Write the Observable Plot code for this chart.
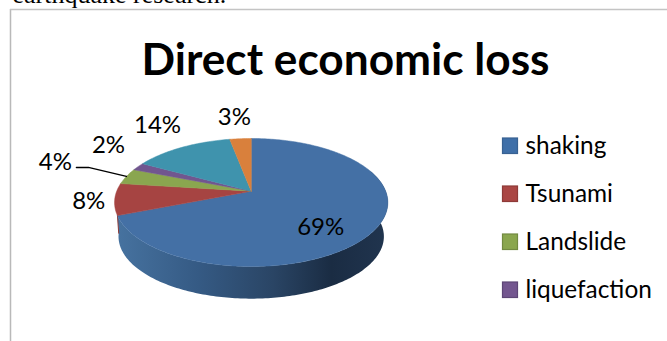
<!DOCTYPE html>
<html>
<head>
<meta charset="utf-8">
<script src="https://cdn.jsdelivr.net/npm/d3@7"></script>
<script src="https://cdn.jsdelivr.net/npm/@observablehq/plot@0.6"></script>
<style>
  html, body { margin: 0; padding: 0; background: #fff; overflow: hidden; }
  svg { display: block; }
</style>
</head>
<body>
<script>
// Share of direct economic loss by earthquake hazard
const categories = ["shaking", "Tsunami", "Landslide", "liquefaction", "Fire", "Other"];
const shares = [69, 8, 4, 2, 14, 3];
const sliceColors = ["#4470a5", "#a64442", "#8aa64f", "#71568f", "#3f93ad", "#d9803c"];
const legendColors = ["#3f6fa8", "#aa4644", "#8aa64e", "#73568f"];
const legendBorders = ["#386192", "#8e3a38", "#728a41", "#5d4676"];
const legendEntries = categories.slice(0, 4);

// Label offsets from the middle of each slice's rim
const labelNudgeX = [-54, -26, -71, -29.5, -24.5, -6];
const labelNudgeY = [-3, 2.5, -14, -21, -22, -21];

// Tilted pie: the circle is projected with perspective, so the centre sits above the ellipse centre
const pie = {cx: 250.7, cy: 190.7, sx: 134.5, sy: 62, persp: -0.1766};
const depth = {shrink: 0.971, from: 202, to: 236};

function project(deg, r = 1) {
  const a = deg * Math.PI / 180;
  const X = r * Math.sin(a), Y = -r * Math.cos(a);
  const w = 1 + pie.persp * Y;
  return {x: pie.cx + pie.sx * X / w, y: pie.cy + pie.sy * Y / w};
}
const lower = (p) => ({
  x: pie.cx + (p.x - pie.cx) * depth.shrink,
  y: depth.to + (p.y - depth.from) * depth.shrink
});
function arc(from, to) {
  const n = Math.max(2, Math.ceil(Math.abs(to - from)));
  return d3.range(n + 1).map((i) => project(from + (to - from) * i / n));
}

// Slice angles from the shares
const total = d3.sum(shares);
let running = 0;
const slices = categories.map((category, i) => {
  const start = running / total * 360;
  running += shares[i];
  return {category, share: shares[i], start, end: running / total * 360, mid: (start + running / total * 360) / 2};
});

const topFaces = slices.flatMap((s) =>
  [project(0, 0), ...arc(s.start, s.end)].map((p) => ({...p, category: s.category}))
);

// Wall of the cylinder below the front rim; its lower edge runs on to the silhouette at the left
const silhouetteAngle = slices[1].mid;
const shakingWall = [
  ...arc(70, slices[0].end),
  ...arc(70, silhouetteAngle).map(lower).reverse()
];
const tsunamiEdge = [project(slices[0].end), lower(project(silhouetteAngle))];

const labels = slices.map((s, i) => {
  const p = project(s.mid);
  return {x: p.x + labelNudgeX[i], y: p.y + labelNudgeY[i], text: `${s.share}%`};
});

// Leader line for the small Landslide slice
const landslideRim = project(slices[2].mid);
const leader = [
  {x: landslideRim.x - 50, y: landslideRim.y - 9},
  {x: landslideRim.x - 38, y: landslideRim.y - 9},
  landslideRim
];

const rowY = (i) => 146 + i * 48;
const legendRows = legendEntries.map((name, i) => ({name, color: legendColors[i], border: legendBorders[i], y: rowY(i)}));

const wallGradient = () => {
  const defs = d3.create("svg:defs");
  const g = defs.append("linearGradient")
    .attr("id", "wallShade")
    .attr("gradientUnits", "userSpaceOnUse")
    .attr("x1", 118).attr("x2", 384).attr("y1", 0).attr("y2", 0);
  [[0, "#46729f"], [0.3, "#355a84"], [0.58, "#2a4565"], [0.8, "#1a2c43"], [1, "#20344e"]]
    .forEach(([o, c]) => g.append("stop").attr("offset", o).attr("stop-color", c));
  return defs.node();
};

const chart = Plot.plot({
  width: 667,
  height: 341,
  margin: 0,
  x: {domain: [0, 667], range: [0, 667], axis: null},
  y: {domain: [0, 341], range: [0, 341], axis: null},
  color: {domain: categories, range: sliceColors},
  style: {background: "#fff"},
  marks: [
    wallGradient,
    // Frame of the chart area, open at the right and bottom
    Plot.ruleX([10], {y1: 9, y2: 341, stroke: "#b9b9b9", strokeWidth: 1.5}),
    Plot.ruleY([9], {x1: 10, x2: 667, stroke: "#c4c4c4", strokeWidth: 1.5}),
    // Last line of the text running above the chart
    Plot.text(["earthquake research."], {
      x: 12, y: 2.5, text: (d) => d, textAnchor: "start", lineAnchor: "bottom",
      fontFamily: "Liberation Serif", fontSize: 26, fill: "#000"
    }),
    Plot.text(["Direct economic loss"], {
      x: 345, y: 60, text: (d) => d, textAnchor: "middle",
      fontFamily: "Lato", fontWeight: 700, fontSize: 44.2, fill: "#000"
    }),
    Plot.line(shakingWall, {x: "x", y: "y", fill: "url(#wallShade)", stroke: "none", curve: "linear-closed"}),
    Plot.line(tsunamiEdge, {x: "x", y: "y", stroke: "#8c3a38", strokeWidth: 1}),
    Plot.line(topFaces, {x: "x", y: "y", z: "category", fill: "category", stroke: "category", strokeWidth: 0.5, curve: "linear-closed"}),
    Plot.line(leader, {x: "x", y: "y", stroke: "#000", strokeWidth: 1.4}),
    Plot.text(labels, {x: "x", y: "y", text: "text", fontFamily: "Lato", fontSize: 24, fill: "#000"}),
    // Legend
    Plot.rect(legendRows, {
      x1: 502.5, x2: 517.5, y1: (d) => d.y - 8, y2: (d) => d.y + 7.5,
      fill: "color", stroke: "border", strokeWidth: 1.2
    }),
    Plot.text(legendRows, {
      x: 525, y: "y", text: "name", textAnchor: "start",
      fontFamily: "Lato", fontSize: 24.4, fill: "#000"
    })
  ]
});
document.body.append(chart);
</script>
</body>
</html>
